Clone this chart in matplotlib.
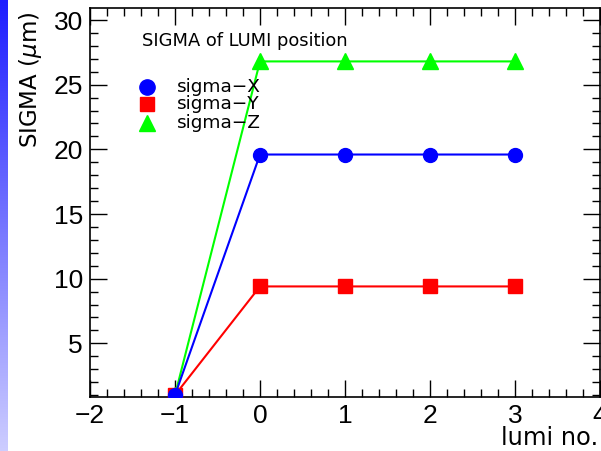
import numpy as np
import matplotlib
matplotlib.use("Agg")
import matplotlib.pyplot as plt
from matplotlib.ticker import MultipleLocator
from matplotlib.colors import LinearSegmentedColormap

lumi = [-1, 0, 1, 2, 3]
sigma_x = [1.0, 19.6, 19.6, 19.6, 19.6]
sigma_y = [1.0, 9.4, 9.4, 9.4, 9.4]
sigma_z = [1.0, 26.8, 26.8, 26.8, 26.8]

plt.rcParams["font.family"] = ["Liberation Sans", "DejaVu Sans"]
plt.rcParams["mathtext.fontset"] = "dejavusans"
label_font = ["DejaVu Sans"]

fig = plt.figure(figsize=(6.01, 4.51), dpi=100)

# gradient strip at the left edge of the canvas
strip = fig.add_axes([0, 0, 8 / 601, 1])
grad = np.linspace(0, 1, 256).reshape(-1, 1)
cmap = LinearSegmentedColormap.from_list("strip", ["#1e1eff", "#cdcdff"])
strip.imshow(grad, aspect="auto", cmap=cmap, extent=[0, 1, 1, 0])
strip.axis("off")

ax = fig.add_axes([90 / 601, 54 / 451, 510 / 601, 389 / 451])

ax.plot(lumi, sigma_z, color="#00ff00", lw=1.5, marker="^", ms=11, zorder=3)
ax.plot(lumi, sigma_y, color="#ff0000", lw=1.5, marker="s", ms=10, zorder=4)
ax.plot(lumi, sigma_x, color="#0000ff", lw=1.5, marker="o", ms=10, zorder=5)

ax.set_xlim(-2, 4)
ax.set_ylim(0.85, 30.93)
ax.xaxis.set_major_locator(MultipleLocator(1))
ax.xaxis.set_minor_locator(MultipleLocator(0.2))
ax.yaxis.set_minor_locator(MultipleLocator(1))
ax.set_yticks([5, 10, 15, 20, 25, 30])
ax.tick_params(which="both", direction="in", top=True, right=True,
               width=1, labelsize=19, color="black")
ax.tick_params(which="major", length=12)
ax.tick_params(which="minor", length=6)
ax.tick_params(axis="x", pad=5)
ax.tick_params(axis="y", pad=5)
for s in ax.spines.values():
    s.set_linewidth(1.2)

fig.text(598 / 601, 1 - 438 / 451, "lumi no.", ha="right", va="center",
         fontsize=17.4, family=label_font)
fig.text(31 / 601, 1 - 12 / 451, "SIGMA ($\\mu$m)", rotation=90, ha="center",
         va="top", fontsize=16.5, family=label_font)

# legend block
fig.text(142 / 601, 1 - 41 / 451, "SIGMA of LUMI position", ha="left",
         va="center", fontsize=12.9, family=label_font)
leg_y = [87, 104, 123]
leg_names = ["sigma\u2212X", "sigma\u2212Y", "sigma\u2212Z"]
leg_style = [("o", "#0000ff", 11), ("s", "#ff0000", 10), ("^", "#00ff00", 11)]
for yy, name, (m, c, ms) in zip(leg_y, leg_names, leg_style):
    fig.lines.append(plt.Line2D([147 / 601], [1 - yy / 451], marker=m, color=c,
                                ms=ms, transform=fig.transFigure, ls="none"))
    fig.text(177 / 601, 1 - yy / 451, name, ha="left", va="center",
             fontsize=13.3, family=label_font)

fig.savefig("out.png", dpi=100)
